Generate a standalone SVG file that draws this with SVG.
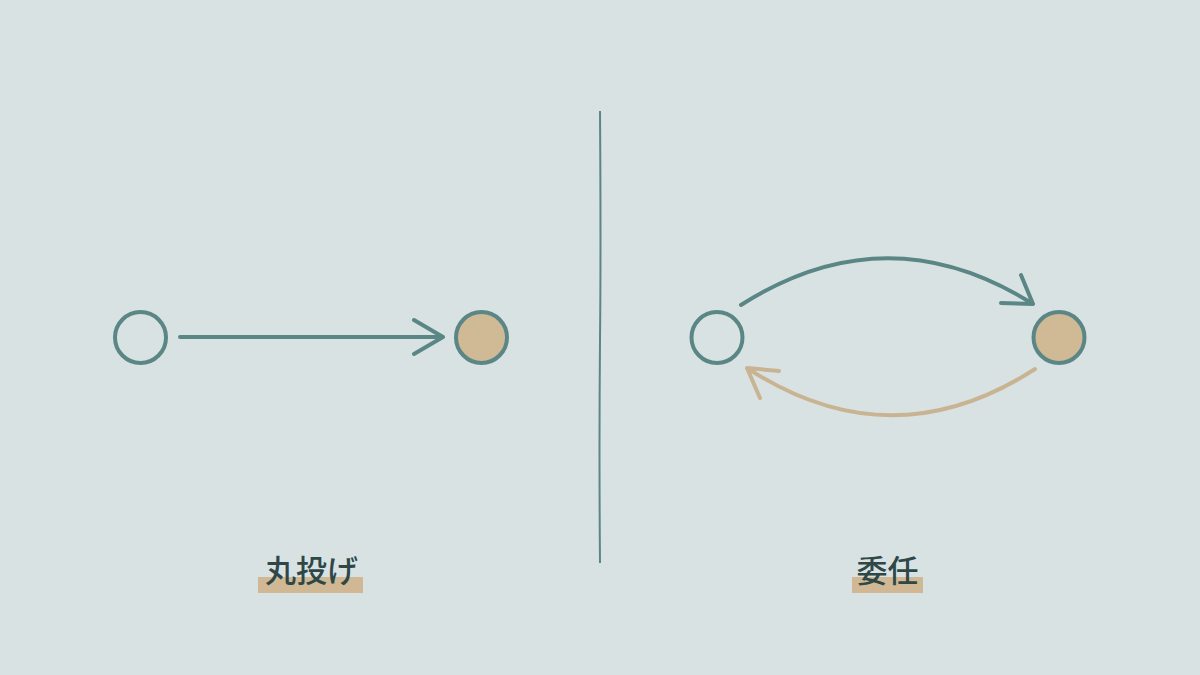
<svg xmlns="http://www.w3.org/2000/svg" width="1200" height="675" viewBox="0 0 1200 675">
<style>
.teal{stroke:#5b8686;fill:none;stroke-width:4;stroke-linecap:round;stroke-linejoin:round}
.tan{stroke:#c8b492;fill:none;stroke-width:4;stroke-linecap:round;stroke-linejoin:round}
.node{stroke:#5b8686;stroke-width:4}
.lbl{font-family:"Noto Sans CJK JP","Noto Sans CJK SC",sans-serif;font-size:31px;font-weight:500;fill:#2f4747;text-anchor:middle}
.hl{fill:#cfb893}
</style>
<rect width="1200" height="675" fill="#d9e2e3"/>
<g id="divider"><path d="M600 111 Q601 250 600 340 Q599 450 600 563" stroke="#5b8686" stroke-width="2" fill="none"/></g>
<g id="left-a"><circle class="node" cx="140.5" cy="337.5" r="25.5" fill="none"/></g>
<g id="left-b"><circle class="node" cx="481.5" cy="337.5" r="25.5" fill="#d0b995"/></g>
<g id="right-a"><circle class="node" cx="717" cy="337.5" r="25.5" fill="none"/></g>
<g id="right-b"><circle class="node" cx="1059" cy="337.5" r="25.5" fill="#d0b995"/></g>
<g id="connectors">
<path class="teal" d="M180 337 L443 337 M414 320 L443 337 L414 354"/>
<path class="teal" d="M741 305 Q887 212 1033 304 M1021 275 L1033 304 L1001 303"/>
<path class="tan" d="M1035 369 Q891 462 747 368 M779 371 L747 368 L760 398"/>
</g>
<g id="label-left"><rect class="hl" x="258" y="577" width="105" height="16"/><text class="lbl" x="311.5" y="582">丸投げ</text></g>
<g id="label-right"><rect class="hl" x="852" y="577" width="71" height="16"/><text class="lbl" x="887.5" y="582">委任</text></g>
</svg>
